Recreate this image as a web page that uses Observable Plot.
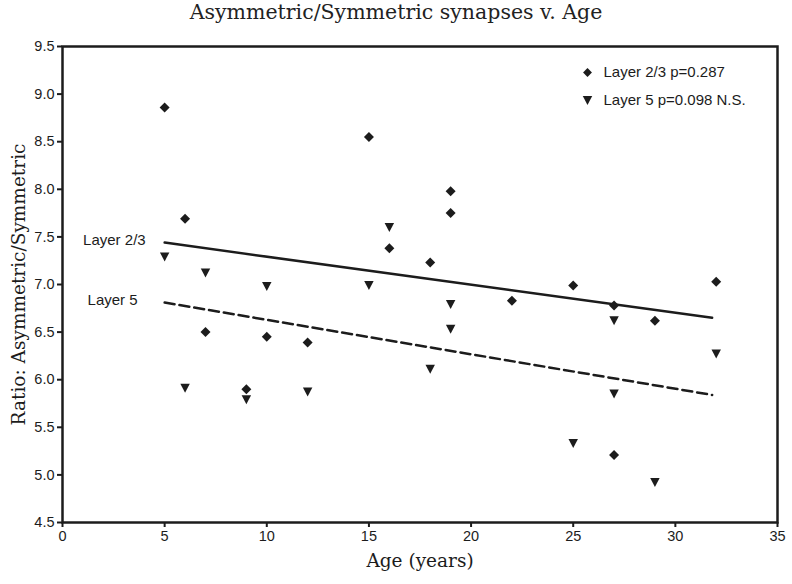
<!DOCTYPE html>
<html>
<head>
<meta charset="utf-8">
<script src="https://cdn.jsdelivr.net/npm/d3@7"></script>
<script src="https://cdn.jsdelivr.net/npm/@observablehq/plot@0.6"></script>
<style>
  html, body { margin: 0; padding: 0; background: #fff; }
  #title { width: 792px; height: 24px; line-height: 24px; text-align: center;
           font-family: "DejaVu Serif", serif; font-size: 20.5px; color: #222; white-space: nowrap; }
</style>
</head>
<body>
<div id="title">Asymmetric/Symmetric synapses v. Age</div>
<div id="chart"></div>
<script>
// ---- data ----
const ages23 = [5, 6, 7, 9, 10, 12, 15, 16, 18, 19, 19, 22, 25, 27, 27, 29, 32];
const ratio23 = [8.86, 7.69, 6.50, 5.90, 6.45, 6.39, 8.55, 7.38, 7.23, 7.98, 7.75, 6.83, 6.99, 6.78, 5.21, 6.62, 7.03];
const ages5 = [5, 6, 7, 9, 10, 12, 15, 16, 18, 19, 19, 25, 27, 27, 29, 32];
const ratio5 = [7.29, 5.91, 7.12, 5.79, 6.98, 5.87, 6.99, 7.60, 6.11, 6.79, 6.53, 5.33, 6.62, 5.85, 4.92, 6.27];
// regression line endpoints
const fitAges = [5, 31.8];
const fit23 = [7.44, 6.65];
const fit5 = [6.81, 5.84];
const seriesNames = ["Layer 2/3", "Layer 5"];
const legendLabels = ["Layer 2/3 p=0.287", "Layer 5 p=0.098 N.S."];
const xTicks = [0, 5, 10, 15, 20, 25, 30, 35];
const yTicks = [4.5, 5.0, 5.5, 6.0, 6.5, 7.0, 7.5, 8.0, 8.5, 9.0, 9.5];
const xLabel = "Age (years)";
const yLabel = "Ratio: Asymmetric/Symmetric";

const pts23 = ages23.map((a, i) => ({age: a, ratio: ratio23[i]}));
const pts5 = ages5.map((a, i) => ({age: a, ratio: ratio5[i]}));
const line23 = fitAges.map((a, i) => ({age: a, ratio: fit23[i]}));
const line5 = fitAges.map((a, i) => ({age: a, ratio: fit5[i]}));

const ink = "#1c1c1c";
const triangleDown = {
  draw(ctx, size) {
    const s = Math.sqrt(size / Math.PI);
    const w = s * 1.05, h = s;
    ctx.moveTo(-w, -h);
    ctx.lineTo(w, -h);
    ctx.lineTo(0, h);
    ctx.closePath();
  }
};

const chart = Plot.plot({
  width: 792,
  height: 560,
  marginTop: 22,
  marginBottom: 62,
  marginLeft: 62,
  marginRight: 15,
  style: {fontFamily: "'Liberation Sans', Arial, sans-serif", fontSize: "14px", color: ink, background: "#fff"},
  x: {domain: [0, 35]},
  y: {domain: [4.5, 9.5]},
  marks: [
    Plot.axisX({ticks: xTicks, tickSize: 5, tickPadding: 3, strokeWidth: 2, stroke: ink, label: null, fontSize: 14.5, fill: ink}),
    Plot.axisY({ticks: yTicks, tickFormat: d3.format(".1f"), tickSize: 5, tickPadding: 3, strokeWidth: 2, stroke: ink, label: null, fontSize: 14.5, fill: ink}),
    Plot.frame({stroke: ink, strokeWidth: 2.5}),
    Plot.line(line23, {x: "age", y: "ratio", stroke: ink, strokeWidth: 2.5}),
    Plot.line(line5, {x: "age", y: "ratio", stroke: ink, strokeWidth: 2.5, strokeDasharray: "10,5"}),
    Plot.dot(pts23, {x: "age", y: "ratio", symbol: "diamond2", r: 4.5, fill: ink, stroke: "none"}),
    Plot.dot(pts5, {x: "age", y: "ratio", symbol: triangleDown, r: 4.5, fill: ink, stroke: "none"}),
    // series labels next to regression line starts
    Plot.text([line23[0]], {x: "age", y: "ratio", text: () => seriesNames[0], textAnchor: "end", lineAnchor: "middle", dx: -19, dy: -2, fontSize: 15, fill: ink}),
    Plot.text([line5[0]], {x: "age", y: "ratio", text: () => seriesNames[1], textAnchor: "end", lineAnchor: "middle", dx: -27, dy: -2, fontSize: 15, fill: ink}),
    // legend
    Plot.dot([legendLabels[0]], {frameAnchor: "top-right", dx: -190, dy: 26, symbol: "diamond2", r: 4, fill: ink, stroke: "none"}),
    Plot.dot([legendLabels[1]], {frameAnchor: "top-right", dx: -190, dy: 54, symbol: triangleDown, r: 4.5, fill: ink, stroke: "none"}),
    Plot.text([legendLabels[0]], {frameAnchor: "top-right", text: d => d, dx: -174, dy: 26, textAnchor: "start", lineAnchor: "middle", fontSize: 15, fill: ink}),
    Plot.text([legendLabels[1]], {frameAnchor: "top-right", text: d => d, dx: -174, dy: 54, textAnchor: "start", lineAnchor: "middle", fontSize: 15, fill: ink}),
    // axis titles
    Plot.text([xLabel], {frameAnchor: "bottom", text: d => d, dy: 39, textAnchor: "middle", lineAnchor: "middle", fontFamily: "'DejaVu Serif', serif", fontSize: 18.5, fill: ink}),
    Plot.text([yLabel], {frameAnchor: "left", text: d => d, dx: -43, rotate: -90, textAnchor: "middle", lineAnchor: "middle", fontFamily: "'DejaVu Serif', serif", fontSize: 18.5, fill: ink})
  ]
});
document.getElementById("chart").appendChild(chart);
</script>
</body>
</html>
